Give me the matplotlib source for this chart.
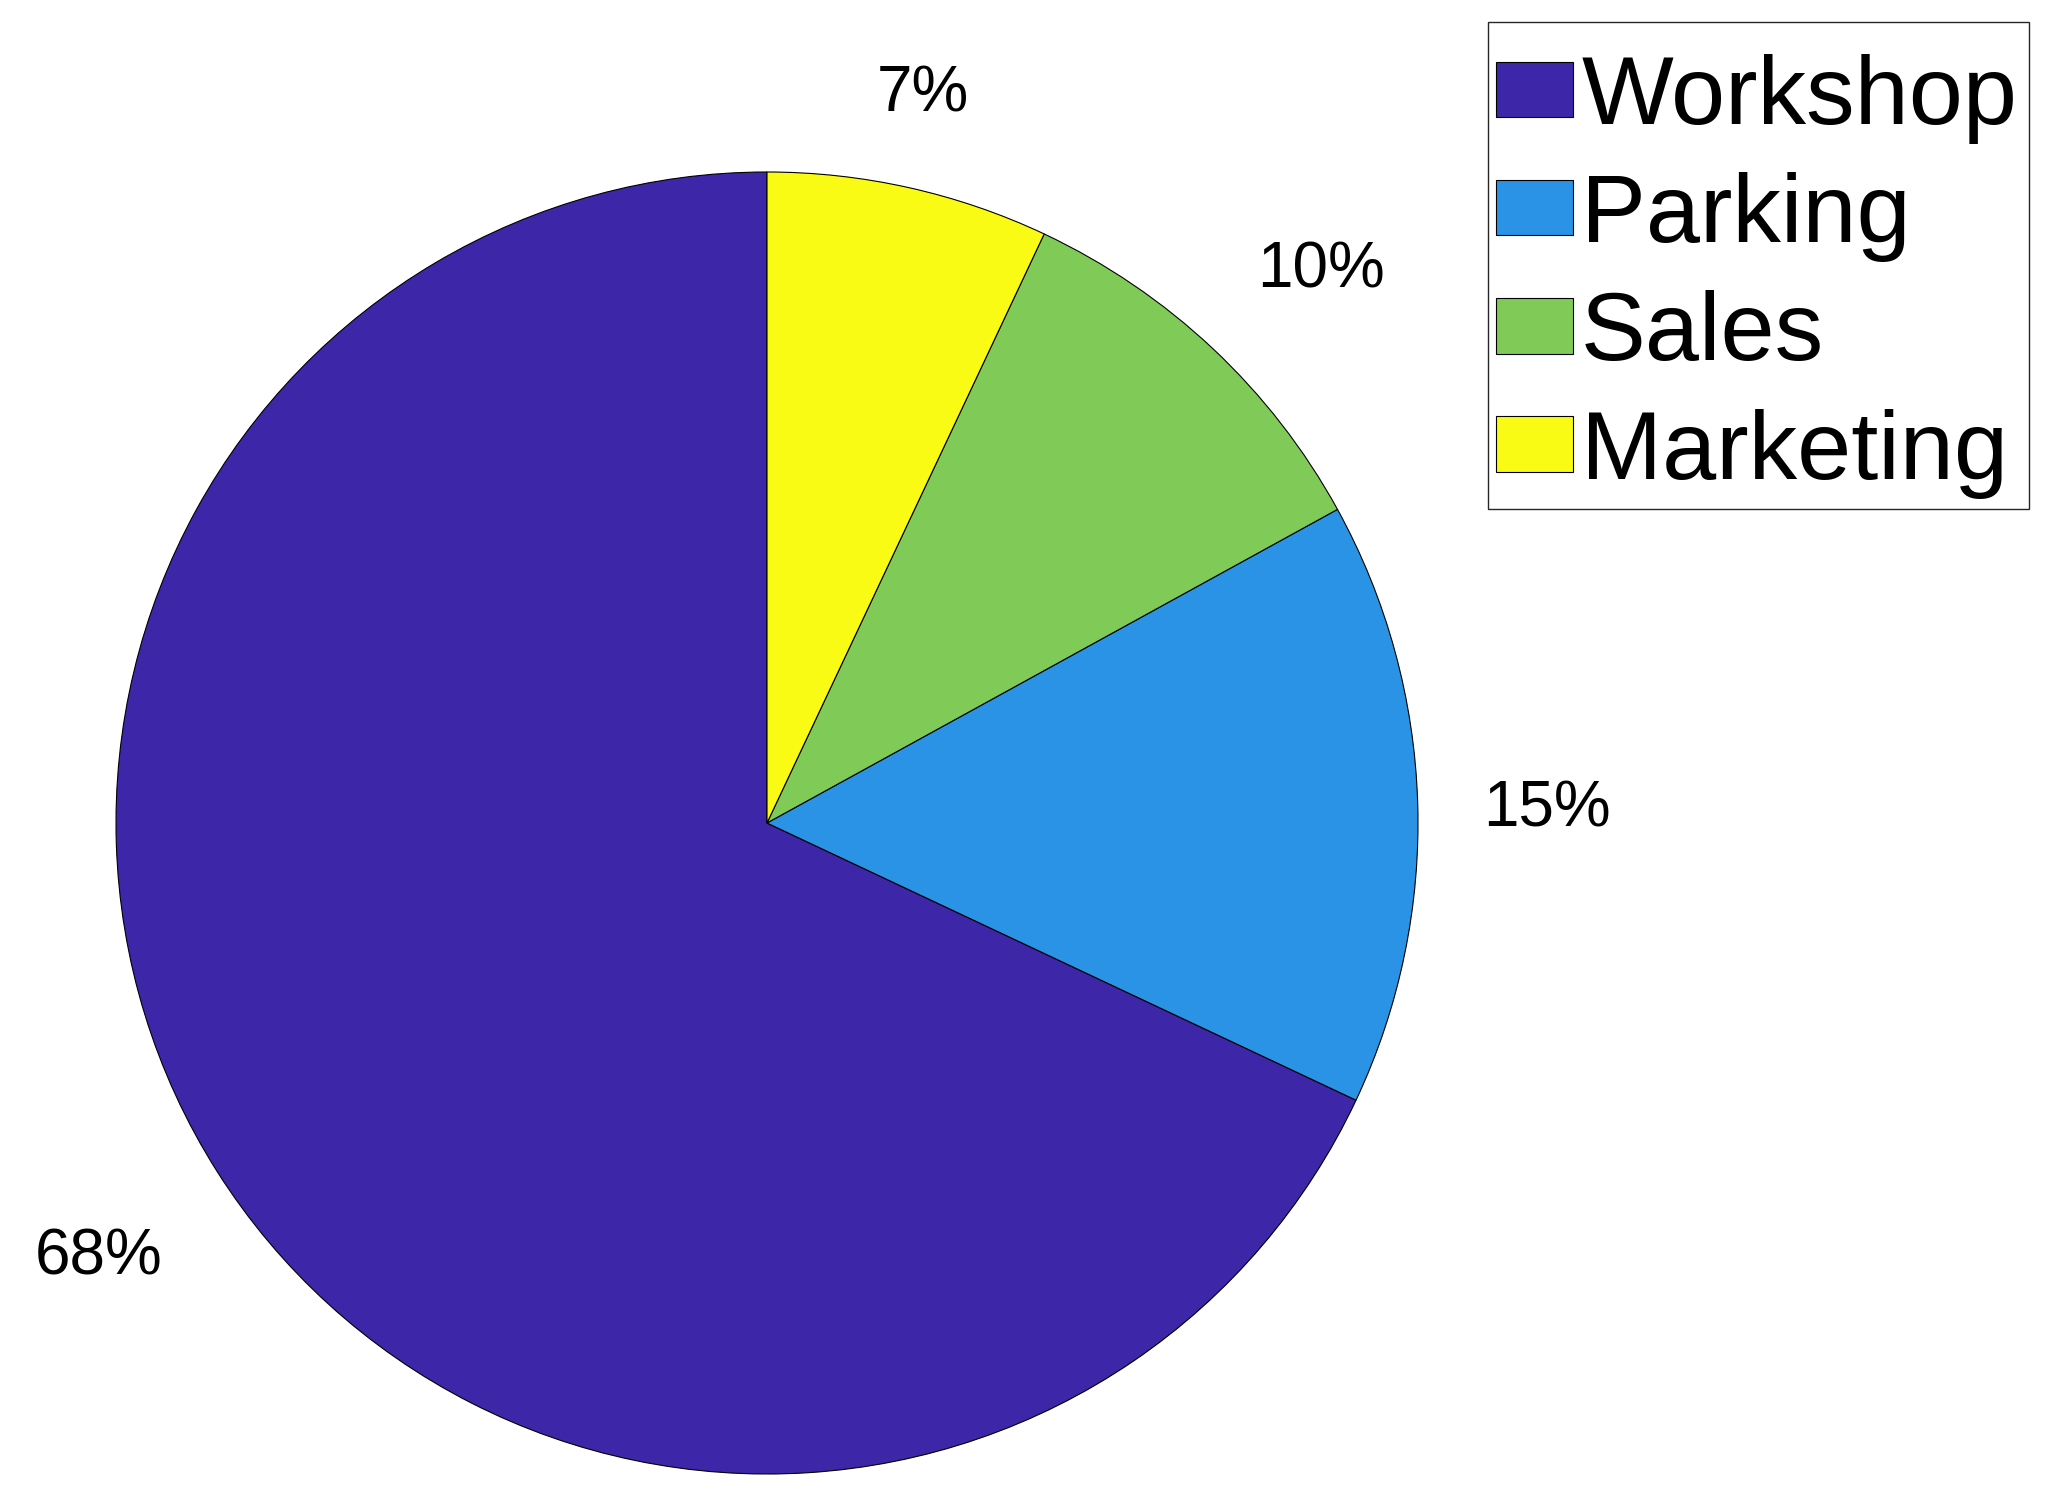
import numpy as np
import matplotlib
matplotlib.use("Agg")
import matplotlib.pyplot as plt
from matplotlib.patches import Rectangle

categories = ["Workshop", "Parking", "Sales", "Marketing"]
values = [68, 15, 10, 7]
colors = ["#3E26A8", "#2A93E6", "#80CB58", "#F9FB15"]

plt.rcParams['font.family'] = ['Liberation Sans', 'DejaVu Sans']

W, H = 2053, 1501
fig = plt.figure(figsize=(W / 100, H / 100), dpi=100)
ax = fig.add_axes([0, 0, 1, 1])

wedges, _ = ax.pie(values, colors=colors, startangle=90, counterclock=True,
                   radius=1, center=(0, 0),
                   wedgeprops=dict(edgecolor='black', linewidth=0.8))

# pie centre / radius in pixels (used only to set the view)
cx, cy, R = 767, 823, 651
ax.set_xlim(-cx / R, (W - cx) / R)
ax.set_ylim(-(H - cy) / R, cy / R)
ax.set_aspect('equal')
ax.axis('off')

va_shift = {'top': -15, 'center': -6.5, 'bottom': 0}
total = sum(values)
start = 90.0
for v in values:
    span = 360.0 * v / total
    mid = np.deg2rad(start + span / 2)
    start += span
    x, y = 1.1 * np.cos(mid), 1.1 * np.sin(mid)
    c, s = np.cos(mid), np.sin(mid)
    ha = 'center' if abs(c) < 0.3 else ('left' if c > 0 else 'right')
    va = 'center' if abs(s) < 0.3 else ('bottom' if s > 0 else 'top')
    ax.annotate(f"{round(100 * v / total)}%", xy=(x, y),
                xytext=(0, va_shift[va]), textcoords='offset points',
                ha=ha, va=va, fontsize=46)

# legend: content placed without frame, frame drawn around it with
# asymmetric padding (pixels)
pad_l, pad_r, pad_t, pad_b = 8, 12, 32, 10
box_right, box_top = 2029, 22
leg = fig.legend(wedges, categories, loc='upper right',
                 bbox_to_anchor=((box_right - pad_r) / W, 1 - (box_top + pad_t) / H),
                 fontsize=70, frameon=False,
                 handlelength=0.8, handleheight=0.5, handletextpad=0.08,
                 labelspacing=0.29, borderpad=0, borderaxespad=0)
leg.set_zorder(6)
fig.canvas.draw()
bb = leg._legend_box.get_window_extent(fig.canvas.get_renderer())
frame = Rectangle((bb.x0 - pad_l, bb.y0 - pad_b),
                  bb.width + pad_l + pad_r, bb.height + pad_t + pad_b,
                  transform=None, facecolor='white', edgecolor='#262626',
                  linewidth=1.0, zorder=5)
fig.add_artist(frame)

fig.savefig("out.png", dpi=100)
